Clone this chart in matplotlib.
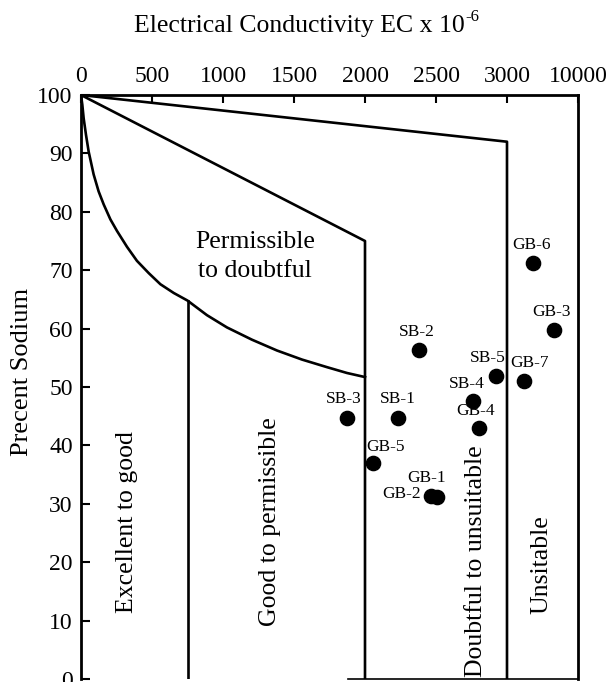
import numpy as np
import matplotlib
matplotlib.use("Agg")
import matplotlib.pyplot as plt

plt.rcParams['font.family'] = ['Liberation Serif', 'DejaVu Serif']

# ---- data ----
sample_labels = ["SB-1", "SB-2", "SB-3", "SB-4", "SB-5",
                 "GB-1", "GB-2", "GB-3", "GB-4", "GB-5", "GB-6", "GB-7"]
sample_ec = [2230, 2380, 1870, 2760, 2920,
             2510, 2462, 7650, 2800, 2055, 5600, 4650]
sample_na = [44.7, 56.4, 44.7, 47.6, 51.9,
             31.1, 31.3, 59.7, 43.0, 37.0, 71.2, 51.0]

# label offsets (points)
label_dx = [0, -1.5, -2, -4.5, -6, -8, -7, -2, -2, 9, -1.5, 4.5]
label_dy = [14, 12.5, 13.5, 12.5, 13, 14, 1.5, 13, 12.5, 11.5, 13, 13]
label_ha = ["center"] * 6 + ["right"] + ["center"] * 5

# boundary curves
curve_ec = [0, 9.4, 18.8, 35, 54, 89, 124, 160, 207, 254, 324, 394, 477, 559,
            653, 750, 887, 1028, 1204, 1380, 1556, 1732, 1873, 2000]
curve_na = [100, 98.3, 96.0, 93.2, 90.3, 86.4, 83.5, 81.25, 78.7, 76.7, 74.0,
            71.6, 69.5, 67.6, 66.1, 64.8, 62.3, 60.2, 58.1, 56.25, 54.7, 53.4,
            52.4, 51.7]
line2_ec = [0, 2000, 2000]
line2_na = [100, 75, 0]
line3_ec = [0, 3000, 3000]
line3_na = [100, 92, 0]
line1_ec = [750, 750]
line1_na = [64.8, 0]

xticks = [0, 500, 1000, 1500, 2000, 2500, 3000, 10000]
xtick_labels = ["0", "500", "1000", "1500", "2000", "2500", "3000", "10000"]
yticks = [0, 10, 20, 30, 40, 50, 60, 70, 80, 90, 100]


def fwd(x):
    x = np.asarray(x, dtype=float)
    return np.where(x <= 3000, x, 3000 + (x - 3000) / 14.0)


def inv(p):
    p = np.asarray(p, dtype=float)
    return np.where(p <= 3000, p, 3000 + (p - 3000) * 14.0)


W, H = 611, 682
fig = plt.figure(figsize=(W / 100, H / 100), dpi=100)
ax = fig.add_axes([81 / W, 1 - 679 / H, (578 - 81) / W, (679 - 95) / H])
ax.set_xscale('function', functions=(fwd, inv))
ax.set_xlim(0, 10000)
ax.set_ylim(0, 100)

lw = 1.9
ax.plot(curve_ec, curve_na, color='black', lw=lw)
ax.plot(line1_ec, line1_na, color='black', lw=lw)
ax.plot(line2_ec, line2_na, color='black', lw=lw)
ax.plot(line3_ec, line3_na, color='black', lw=lw)

ax.scatter(sample_ec, sample_na, s=105, color='black', zorder=5)
for lab, x, y, dx, dy, ha in zip(sample_labels, sample_ec, sample_na,
                                 label_dx, label_dy, label_ha):
    ax.annotate(lab, (x, y), xytext=(dx, dy), textcoords='offset points',
                ha=ha, va='center', fontsize=12.5)

zfs = 18.5
ax.text(1225, 72.3, "Permissible\nto doubtful", ha='center', va='center',
        fontsize=zfs, linespacing=1.4)
ax.text(324, 26.9, "Excellent to good", rotation=90, ha='center', va='center', fontsize=zfs)
ax.text(1331, 27, "Good to permissible", rotation=90, ha='center', va='center', fontsize=zfs)
ax.text(2785, 0.3, "Doubtful to unsuitable", rotation=90, ha='center', va='bottom', fontsize=zfs)
ax.text(6350, 19.5, "Unsitable", rotation=90, ha='center', va='center', fontsize=zfs)

ax.xaxis.tick_top()
ax.set_xticks(xticks)
ax.set_xticklabels(xtick_labels)
ax.set_yticks(yticks)
ax.tick_params(axis='x', direction='in', length=6, width=1.5, labelsize=17, pad=6,
               top=True, bottom=False)
ax.tick_params(axis='y', direction='in', length=6.5, width=1.5, labelsize=17, pad=6)
ax.xaxis.set_minor_locator(matplotlib.ticker.NullLocator())

for s in ['top', 'left', 'right']:
    ax.spines[s].set_linewidth(2)
ax.spines['bottom'].set_linewidth(1.2)
ax.spines['bottom'].set_bounds(1880, 10000)

title = fig.text(299 / W, 1 - 26 / H, "Electrical Conductivity EC x 10",
                 ha='center', va='center', fontsize=18.5)
fig.canvas.draw()
bb = title.get_window_extent()
fig.text((bb.x1 + 1) / W, (bb.y1 - 2) / H, "-6", ha='left', va='center', fontsize=12)

fig.text(22 / W, 1 - 372 / H, "Precent Sodium", rotation=90, ha='center', va='center',
         fontsize=19)

fig.savefig("out.png", dpi=100)
